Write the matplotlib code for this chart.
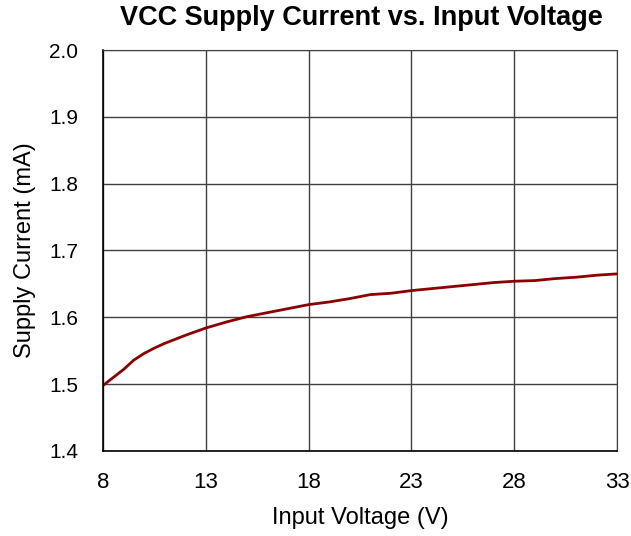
import matplotlib
matplotlib.use("Agg")
import matplotlib.pyplot as plt

# Данные
voltage = [8, 8.5, 9, 9.5, 10, 10.5, 11, 12, 13, 14, 15, 16, 17, 18, 19, 20,
           21, 22, 23, 24, 25, 26, 27, 28, 29, 30, 31, 32, 33]
current = [1.498, 1.510, 1.522, 1.536, 1.546, 1.554, 1.561, 1.573, 1.584, 1.593,
           1.601, 1.607, 1.613, 1.619, 1.623, 1.628, 1.634, 1.636, 1.640, 1.643,
           1.646, 1.649, 1.652, 1.654, 1.655, 1.658, 1.660, 1.663, 1.665]

x_ticks = [8, 13, 18, 23, 28, 33]
y_ticks = [1.4, 1.5, 1.6, 1.7, 1.8, 1.9, 2.0]

plt.rcParams['font.family'] = ['Liberation Sans', 'DejaVu Sans']

fig = plt.figure(figsize=(6.31, 5.36), dpi=100)
ax = fig.add_axes([0.1632, 0.1586, 0.8146, 0.7481])

ax.plot(voltage, current, color='#8b0000', linewidth=2)

ax.set_xlim(8, 33)
ax.set_ylim(1.4, 2.0)
ax.set_xticks(x_ticks)
ax.set_yticks(y_ticks)
ax.set_yticklabels([f"{v:.1f}" for v in y_ticks])
ax.grid(True, color='#404040', linewidth=1)
ax.tick_params(axis='x', length=0, labelsize=16, pad=15)
ax.tick_params(axis='y', length=0, labelsize=15, pad=18)

for side in ['top', 'right']:
    ax.spines[side].set_color('#404040')
for side in ['left', 'bottom']:
    ax.spines[side].set_color('black')
    ax.spines[side].set_linewidth(1.2)

ax.set_xlabel("Input Voltage (V)", fontsize=17, labelpad=10)
ax.set_ylabel("Supply Current (mA)", fontsize=17, labelpad=9)
fig.text(0.572, 0.966, "VCC Supply Current vs. Input Voltage", fontsize=19.5,
         fontweight='bold', ha='center', va='center')

fig.savefig("out.png", dpi=100)
